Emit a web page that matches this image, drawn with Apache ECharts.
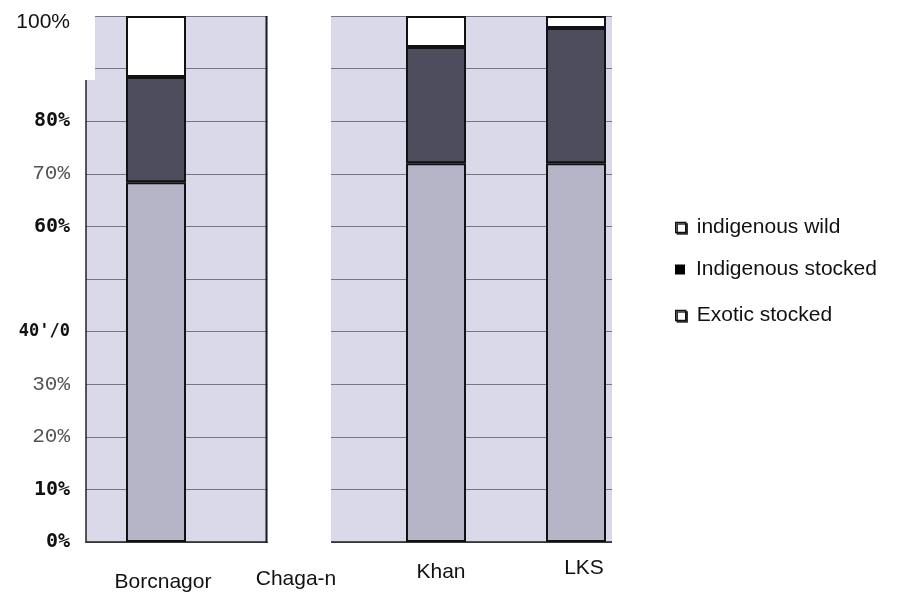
<!DOCTYPE html>
<html>
<head>
<meta charset="utf-8">
<script src="https://cdn.jsdelivr.net/npm/echarts@6/dist/echarts.min.js"></script>
<style>
html,body{margin:0;padding:0;background:#fff;}
#chart{width:903px;height:597px;}
</style>
</head>
<body>
<div id="chart"></div>
<script>
// ---- data ----
var categories = ['Borcnagor', 'Chaga-n', 'Khan', 'LKS'];
var indigenousWild = [68.4, null, 72.0, 72.0];
var indigenousStocked = [20.0, null, 22.1, 25.7];
var exoticStocked = [11.6, null, 5.9, 2.3];
var seriesNames = ['indigenous wild', 'Indigenous stocked', 'Exotic stocked'];
var yTickLabels = ['0%', '10%', '20%', '30%', "40'/0", '', '60%', '70%', '80%', '', '100%'];
var yTickStyles = ['b', 'b', 'c', 'c', 'd', 'b', 'b', 'c', 'b', 'b', 'a'];
var xLabelStyles = ['x1', 'x2', 'x3', 'x4'];

// ---- chart ----
var chart = echarts.init(document.getElementById('chart'), null, {renderer: 'canvas'});

var barBorder = {borderColor: '#111', borderWidth: 2};

function legendFor(i, top, itemStyle) {
  return {
    show: true,
    orient: 'vertical',
    left: 675,
    top: top,
    padding: 0,
    itemWidth: 10,
    itemHeight: 10,
    selectedMode: false,
    data: [{name: seriesNames[i], icon: 'rect', itemStyle: itemStyle}],
    textStyle: {fontFamily: 'Liberation Sans, Arial, sans-serif', fontSize: 21, color: '#111', padding: [0, 0, 0, 6]}
  };
}

var option = {
  backgroundColor: '#ffffff',
  animation: false,
  grid: {
    left: 86, top: 16, width: 560, height: 526,
    show: true, backgroundColor: '#dad9ea', borderWidth: 0
  },
  legend: [
    legendFor(0, 217, {color: '#fff', borderColor: '#111', borderWidth: 1.5, shadowColor: '#333', shadowOffsetX: 1.5, shadowOffsetY: 1.5, shadowBlur: 0}),
    legendFor(1, 259, {color: '#000', borderColor: '#000', borderWidth: 0}),
    legendFor(2, 305, {color: '#fff', borderColor: '#111', borderWidth: 1.5, shadowColor: '#333', shadowOffsetX: 1.5, shadowOffsetY: 1.5, shadowBlur: 0})
  ],
  xAxis: {
    type: 'category',
    data: categories,
    boundaryGap: true,
    axisLine: {show: true, lineStyle: {color: '#222', width: 1.5}},
    axisTick: {show: false},
    splitLine: {show: false},
    axisLabel: {
      margin: 16,
      interval: 0,
      formatter: function (v, i) { return '{' + xLabelStyles[i] + '|' + v + '}'; },
      rich: {
        x1: {fontFamily: 'Liberation Sans, Arial, sans-serif', fontSize: 21, color: '#111', padding: [14, 0, 0, 14]},
        x2: {fontFamily: 'Liberation Sans, Arial, sans-serif', fontSize: 21, color: '#111', padding: [11, 0, 0, 0]},
        x3: {fontFamily: 'Liberation Sans, Arial, sans-serif', fontSize: 21, color: '#111', padding: [4, 0, 0, 10]},
        x4: {fontFamily: 'Liberation Sans, Arial, sans-serif', fontSize: 21, color: '#111', padding: [0, 0, 0, 16]}
      }
    }
  },
  yAxis: {
    type: 'value',
    min: 0, max: 100, interval: 10,
    axisLine: {show: true, lineStyle: {color: '#222', width: 1.5}},
    axisTick: {show: false},
    splitLine: {show: true, lineStyle: {color: '#75748a', width: 1}},
    axisLabel: {
      margin: 16,
      formatter: function (v) {
        var i = Math.round(v / 10);
        if (!yTickLabels[i]) return '';
        return '{' + yTickStyles[i] + '|' + yTickLabels[i] + '}';
      },
      rich: {
        a: {fontFamily: 'Liberation Sans, Arial, sans-serif', fontSize: 21, color: '#111', padding: [12, 0, 0, 0]},
        b: {fontFamily: 'DejaVu Sans Mono, monospace', fontWeight: 'bold', fontSize: 20, color: '#111'},
        c: {fontFamily: 'Liberation Mono, monospace', fontSize: 21, color: '#555'},
        d: {fontFamily: 'DejaVu Sans Mono, monospace', fontWeight: 'bold', fontSize: 17, color: '#111'}
      }
    }
  },
  series: [
    {name: seriesNames[0], type: 'bar', stack: 'total', data: indigenousWild, barWidth: 60,
      itemStyle: Object.assign({color: '#b6b5c7'}, barBorder)},
    {name: seriesNames[1], type: 'bar', stack: 'total', data: indigenousStocked, barWidth: 60,
      itemStyle: Object.assign({color: '#4e4d5e'}, barBorder)},
    {name: seriesNames[2], type: 'bar', stack: 'total', data: exoticStocked, barWidth: 60,
      itemStyle: Object.assign({color: '#ffffff'}, barBorder)}
  ],
  graphic: [
    // scan artefacts: white gap between the two pieces, cropped right edge, missing top-left corner
    {type: 'rect', z: 100, shape: {x: 267.5, y: 0, width: 63.5, height: 545}, style: {fill: '#ffffff'}},
    {type: 'rect', z: 100, shape: {x: 612, y: 0, width: 50, height: 545}, style: {fill: '#ffffff'}},
    {type: 'rect', z: 100, shape: {x: 84, y: 0, width: 11, height: 80}, style: {fill: '#ffffff'}},
    {type: 'line', z: 101, shape: {x1: 266.5, y1: 16, x2: 266.5, y2: 543}, style: {stroke: '#1a1a2a', lineWidth: 2}}
  ]
};

chart.setOption(option);
</script>
</body>
</html>
